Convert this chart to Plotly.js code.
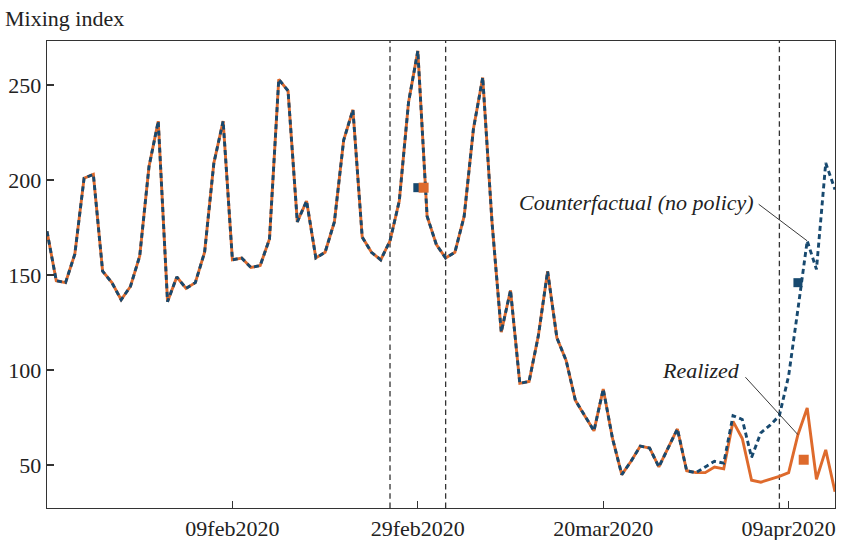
<!DOCTYPE html>
<html>
<head>
<meta charset="utf-8">
<script src="https://cdn.plot.ly/plotly-3.0.1.min.js"></script>
<style>html,body{margin:0;padding:0;background:#fff;}</style>
</head>
<body>
<div id="chart" style="width:842px;height:540px;"></div>
<script>
// ---- data ----
const startDate = '2020-01-20';   // first day of the series (Jan 20 .. Apr 14, 86 days)
const realized = [
  173,147,146,161,201,203,152,146,137,144,160,207,            // Jan 20-31
  231,136,149,143,146,162,209,231,158,159,154,155,169,253,247, // Feb 1-15
  178,189,159,162,178,221,237,170,162,158,168,189,241,268,     // Feb 16-29
  181,166,159,162,181,227,254,178,120,142,93,94,118,152,117,   // Mar 1-15
  105,84,76,68,90,64,45,52,60,59,49,59,69,47,46,46,            // Mar 16-31
  49,48,73,64,42,41,42.5,44,46,66,80,42.5,58,36                // Apr 1-14
];
const counterfactual = [
  173,147,146,161,201,203,152,146,137,144,160,207,
  231,136,149,143,146,162,209,231,158,159,154,155,169,253,247,
  178,189,159,162,178,221,237,170,162,158,168,189,241,268,
  181,166,159,162,181,227,254,178,120,142,93,94,118,152,117,
  105,84,76,68,90,64,45,52,60,59,49,59,69,47,46,49,
  52,51,76,74,54,67,71,76,97,132,168,153,209,195
];
const cfMarkerDates = ['2020-02-29', '2020-04-10'];
const cfMarkerValues = [196, 146];
const reMarkerDates = ['2020-02-29 15:00', '2020-04-10 15:00'];
const reMarkerValues = [196, 52.8];
const policyDates = ['2020-02-26', '2020-03-03', '2020-04-08'];
const tickDates = ['2020-02-09', '2020-02-29', '2020-03-20', '2020-04-09'];
const tickLabels = ['09feb2020', '29feb2020', '20mar2020', '09apr2020'];
const yTicks = [50, 100, 150, 200, 250];
const xRange = ['2020-01-20', '2020-04-14'];
const yRange = [27.4, 273.2];
const cfLabelIndex = 82;   // Apr 11
const reLabelIndex = 81;   // Apr 10

// build the date axis categories
const dates = [];
{
  const d0 = new Date(startDate + 'T00:00:00Z');
  for (let i = 0; i < realized.length; i++) {
    const d = new Date(d0.getTime() + i * 86400000);
    dates.push(d.toISOString().slice(0, 10));
  }
}

const ORANGE = '#DE6A2C';
const NAVY = '#17496F';
const FONT = 'Liberation Serif, Times New Roman, serif';

const traces = [
  {x: dates, y: realized, type: 'scatter', mode: 'lines',
   line: {color: ORANGE, width: 2.9}, hoverinfo: 'skip'},
  {x: dates, y: counterfactual, type: 'scatter', mode: 'lines',
   line: {color: NAVY, width: 2.9, dash: '5px,3.5px'}, hoverinfo: 'skip'},
  {x: cfMarkerDates, y: cfMarkerValues, type: 'scatter', mode: 'markers',
   marker: {symbol: 'square', size: 9, color: NAVY}, hoverinfo: 'skip'},
  {x: reMarkerDates, y: reMarkerValues, type: 'scatter', mode: 'markers',
   marker: {symbol: 'square', size: 10, color: ORANGE}, hoverinfo: 'skip'}
];

const shapes = policyDates.map(d => ({
  type: 'line', xref: 'x', yref: 'paper', x0: d, x1: d, y0: 0, y1: 1,
  line: {color: '#333', width: 1.3, dash: '5.5px,3.8px'}, layer: 'below'
}));

const annotations = [
  {xref: 'paper', yref: 'paper', x: 0.8995, y: 0.655, xanchor: 'right', yanchor: 'middle',
   text: '<i>Counterfactual (no policy)</i>', showarrow: false,
   font: {family: FONT, size: 22, color: '#222'}},
  {xref: 'paper', yref: 'paper', x: 0.882, y: 0.294, xanchor: 'right', yanchor: 'middle',
   text: '<i>Realized</i>', showarrow: false,
   font: {family: FONT, size: 22, color: '#222'}},
  {xref: 'x', yref: 'y', x: dates[cfLabelIndex], y: counterfactual[cfLabelIndex],
   text: ' ', font: {size: 1}, borderpad: 0, showarrow: true, arrowhead: 0,
   arrowwidth: 0.9, arrowcolor: '#222', ax: -49, ay: -37, standoff: 0},
  {xref: 'x', yref: 'y', x: dates[reLabelIndex], y: realized[reLabelIndex],
   text: ' ', font: {size: 1}, borderpad: 0, showarrow: true, arrowhead: 0,
   arrowwidth: 0.9, arrowcolor: '#222', ax: -53, ay: -58, standoff: 0}
];

const layout = {
  width: 842, height: 540,
  margin: {l: 47, r: 7, t: 41, b: 32},
  paper_bgcolor: '#fff', plot_bgcolor: '#fff',
  font: {family: FONT, size: 22, color: '#222'},
  showlegend: false,
  title: {text: 'Mixing index', x: 0.006, xanchor: 'left', xref: 'container',
          y: 0.967, yanchor: 'middle', yref: 'container',
          font: {family: FONT, size: 22, color: '#222'}},
  xaxis: {type: 'date', range: xRange, tickvals: tickDates, ticktext: tickLabels,
          ticks: 'inside', ticklen: 7, tickwidth: 1.2, tickcolor: '#333',
          showline: true, linecolor: '#333', linewidth: 1.3, mirror: true,
          showgrid: false, zeroline: false, fixedrange: true},
  yaxis: {range: yRange, tickvals: yTicks,
          ticks: 'inside', ticklen: 7, tickwidth: 1.2, tickcolor: '#333',
          showline: true, linecolor: '#333', linewidth: 1.3, mirror: true,
          showgrid: false, zeroline: false, fixedrange: true},
  shapes: shapes,
  annotations: annotations
};

Plotly.newPlot('chart', traces, layout, {displayModeBar: false, staticPlot: true});
</script>
</body>
</html>
